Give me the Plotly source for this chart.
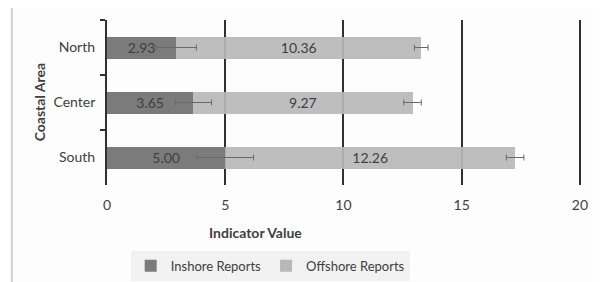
import plotly.graph_objects as go

areas = ["North", "Center", "South"]
inshore = [2.93, 3.65, 5.00]
offshore = [10.36, 9.27, 12.26]
inshore_err = [0.85, 0.77, 1.2]
offshore_err = [0.29, 0.37, 0.37]
x_ticks = [0, 5, 10, 15, 20]

txt = "#404040"
font = "Lato"
totals = [a + b for a, b in zip(inshore, offshore)]

fig = go.Figure()
fig.add_trace(go.Bar(
    y=areas, x=inshore, orientation="h", name="Inshore Reports",
    marker=dict(color="#7b7b7b", line=dict(width=0)),
    text=[f"{v:.2f}" for v in inshore], textposition="inside", constraintext="none",
    insidetextanchor="middle", textfont=dict(color=txt, size=14, family=font),
))
fig.add_trace(go.Bar(
    y=areas, x=offshore, orientation="h", name="Offshore Reports",
    marker=dict(color="#b8b8ba", line=dict(width=0), opacity=0.92),
    text=[f"{v:.2f}" for v in offshore], textposition="inside", constraintext="none",
    insidetextanchor="middle", textfont=dict(color=txt, size=14, family=font),
))
fig.add_trace(go.Scatter(
    y=areas, x=inshore, mode="markers", marker=dict(opacity=0, size=1), showlegend=False,
    hoverinfo="skip",
    error_x=dict(type="data", array=inshore_err, color="#6a6a6a", thickness=1, width=3),
))
fig.add_trace(go.Scatter(
    y=areas, x=totals, mode="markers", marker=dict(opacity=0, size=1), showlegend=False,
    hoverinfo="skip",
    error_x=dict(type="data", array=offshore_err, color="#6a6a6a", thickness=1, width=3),
))

fig.update_layout(
    width=593, height=274, barmode="stack", bargap=0.6,
    margin=dict(l=99, r=14, t=12, b=97, autoexpand=False),
    paper_bgcolor="#fdfdfd", plot_bgcolor="#fdfdfd",
    font=dict(family=font, color=txt, size=13),
    showlegend=True,
    legend=dict(orientation="h", x=0.34, y=-0.49, xanchor="center", yanchor="middle",
                bgcolor="#f2f2f2", font=dict(size=13, color=txt), traceorder="normal",
                itemwidth=30),
    xaxis=dict(range=[0, 20.3], tickvals=x_ticks, showgrid=True, gridcolor="#303030",
               gridwidth=1.5, zeroline=False, showline=False, ticks="", automargin=False,
               ticklabelstandoff=10, tickfont=dict(size=14, color=txt)),
    yaxis=dict(autorange="reversed", showline=True, linecolor="#303030", linewidth=2,
               ticks="outside", tickson="boundaries", ticklen=5, tickcolor="#303030",
               tickwidth=2, showgrid=False, automargin=False,
               tickfont=dict(size=14, color=txt), ticksuffix="  "),
    annotations=[
        dict(text="<b>Indicator Value</b>", xref="paper", yref="paper", x=0.31, y=-0.285,
             showarrow=False, font=dict(size=14, color=txt), xanchor="center", yanchor="middle"),
        dict(text="<b>Coastal Area</b>", xref="paper", yref="paper", x=-0.14, y=0.5,
             textangle=-90, showarrow=False, font=dict(size=14, color=txt),
             xanchor="center", yanchor="middle"),
    ],
    shapes=[
        dict(type="rect", xref="paper", yref="paper", x0=-0.198, x1=1.2, y0=-0.8, y1=1.079,
             line=dict(color="#d4d4d4", width=2), fillcolor="rgba(0,0,0,0)", layer="below"),
    ],
)
fig.write_html("out.html")
